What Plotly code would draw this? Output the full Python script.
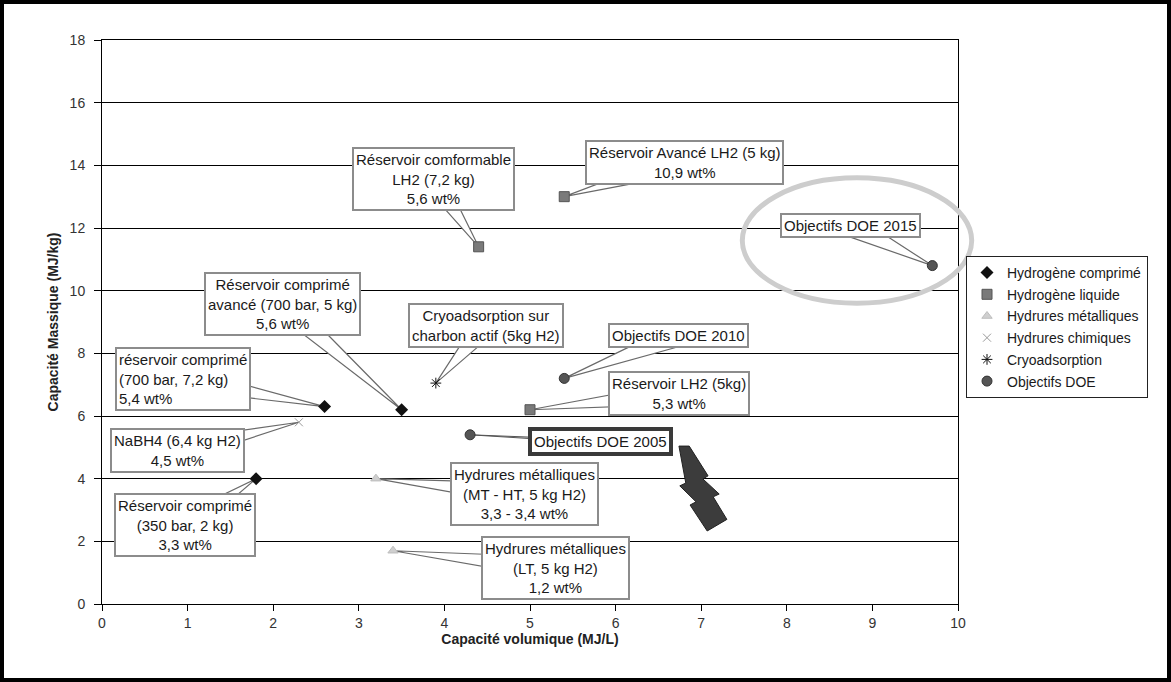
import plotly.graph_objects as go

# ---------------- data ----------------
comprime_x = [1.8, 2.6, 3.5]
comprime_y = [4.0, 6.3, 6.2]
liquide_x = [4.4, 5.4, 5.0]
liquide_y = [11.4, 13.0, 6.2]
metal_x = [3.2, 3.4]
metal_y = [4.0, 1.7]
chimique_x = [2.3]
chimique_y = [5.8]
cryo_x = [3.9]
cryo_y = [7.05]
doe_x = [4.3, 5.4, 9.7]
doe_y = [5.4, 7.2, 10.8]

series_names = ["Hydrogène comprimé", "Hydrogène liquide", "Hydrures métalliques",
                "Hydrures chimiques", "Cryoadsorption", "Objectifs DOE"]

# callout labels: text, target (series index, point index)
label_texts = [
    "Réservoir comformable<br>LH2 (7,2 kg)<br>5,6 wt%",
    "Réservoir Avancé LH2 (5 kg)<br>10,9 wt%",
    "Objectifs DOE 2015",
    "Réservoir comprimé<br>avancé (700 bar, 5 kg)<br>5,6 wt%",
    "Cryoadsorption sur<br>charbon actif (5kg H2)",
    "Objectifs DOE 2010",
    "réservoir comprimé<br>(700 bar, 7,2 kg)<br>5,4 wt%",
    "Réservoir LH2 (5kg)<br>5,3 wt%",
    "NaBH4 (6,4 kg H2)<br>4,5 wt%",
    "Objectifs DOE 2005",
    "Hydrures métalliques<br>(MT - HT, 5 kg H2)<br>3,3 - 3,4 wt%",
    "Réservoir comprimé<br>(350 bar, 2 kg)<br>3,3 wt%",
    "Hydrures métalliques<br>(LT, 5 kg H2)<br>1,2 wt%",
]
label_targets = [(1, 0), (1, 1), (5, 2), (0, 2), (4, 0), (5, 1), (0, 1),
                 (1, 2), (3, 0), (5, 0), (2, 0), (0, 0), (2, 1)]
# box centres (data units)
label_box_x = [3.87, 6.81, 8.74, 2.11, 4.49, 6.73, 0.95, 6.74, 0.88, 5.82, 4.93, 0.975, 5.30]
label_box_y = [13.55, 14.09, 12.08, 9.56, 8.90, 8.57, 7.17, 6.72, 4.90, 5.19, 3.51, 2.52, 1.15]

# ---------------- geometry ----------------
W, H = 1171, 682
ML, MR, MT, MB = 102, 213, 40, 78
PW, PH = W - ML - MR, H - MT - MB
XMAX, YMAX = 10, 18
sx, sy = PW / XMAX, PH / YMAX

all_x = [comprime_x, liquide_x, metal_x, chimique_x, cryo_x, doe_x]
all_y = [comprime_y, liquide_y, metal_y, chimique_y, cryo_y, doe_y]

fig = go.Figure()

markers = [
    dict(symbol="diamond", size=10, color="#111111"),
    dict(symbol="square", size=10, color="#7a7a7a", line=dict(color="#555", width=1)),
    dict(symbol="triangle-up", size=9, color="#cfcfcf", line=dict(color="#bdbdbd", width=1)),
    dict(symbol="x-thin-open", size=8, color="#9a9a9a", line=dict(color="#9a9a9a", width=1)),
    dict(symbol="asterisk-open", size=9, color="#111111", line=dict(color="#111", width=1)),
    dict(symbol="circle", size=10, color="#555555", line=dict(color="#333", width=1)),
]
for name, xs, ys, mk in zip(series_names, all_x, all_y, markers):
    fig.add_trace(go.Scatter(x=xs, y=ys, mode="markers", name=name, marker=mk,
                             legendgroup=name))

shapes = []
annotations = []
FONT = "Liberation Sans, Arial, sans-serif"
for i, (txt, (si, pi)) in enumerate(zip(label_texts, label_targets)):
    bx, by = label_box_x[i], label_box_y[i]
    tx, ty = all_x[si][pi], all_y[si][pi]
    vx, vy = (tx - bx) * sx, (ty - by) * sy
    L = (vx ** 2 + vy ** 2) ** 0.5
    nx, ny = -vy / L, vx / L
    hw = 11
    b1 = (bx + nx * hw / sx, by + ny * hw / sy)
    b2 = (bx - nx * hw / sx, by - ny * hw / sy)
    path = f"M {b1[0]} {b1[1]} L {tx} {ty} L {b2[0]} {b2[1]} Z"
    if i == 9:
        shapes.append(dict(type="path", path=f"M {bx} {by+0.05} L {tx} {ty} L {bx} {by-0.05} Z",
                           xref="x", yref="y", layer="between",
                           fillcolor="#dddddd", line=dict(color="#555555", width=1)))
    else:
        shapes.append(dict(type="path", path=path, xref="x", yref="y", layer="between",
                           fillcolor="white", line=dict(color="#6a6a6a", width=1.2)))
    annotations.append(dict(
        x=bx, y=by, xref="x", yref="y", text=txt, showarrow=False,
        font=dict(family=FONT, size=15, color="#1a1a1a"),
        align="left" if i == 6 else "center",
        bgcolor="white",
        bordercolor="#3a3a3a" if i == 9 else "#8c8c8c",
        borderwidth=4 if i == 9 else 2,
        borderpad=2,
    ))

# lightning bolt from DOE 2005 box (data units)
bolt = [(6.74, 5.04), (6.86, 5.04), (7.08, 4.09), (7.02, 3.99), (7.21, 3.51), (7.14, 3.42),
        (7.30, 2.70), (7.07, 2.33), (6.87, 3.16), (6.94, 3.26), (6.75, 3.77), (6.82, 3.86)]
bolt_path = "M " + " L ".join(f"{x} {y}" for x, y in bolt) + " Z"
shapes.append(dict(type="path", path=bolt_path, xref="x", yref="y", layer="above",
                   fillcolor="#3c3c3c", line=dict(color="#222222", width=1)))

# grey ellipse around DOE 2015 target (data units -> paper)
ell_x0, ell_x1, ell_y0, ell_y1 = 7.48, 10.16, 9.6, 13.6
shapes.append(dict(type="circle", xref="paper", yref="paper",
                   x0=ell_x0 / XMAX, x1=ell_x1 / XMAX, y0=ell_y0 / YMAX, y1=ell_y1 / YMAX,
                   line=dict(color="#cdcdcd", width=5), layer="above"))

# outer black frame of the picture
shapes.append(dict(type="rect", xref="paper", yref="paper",
                   x0=(2 - ML) / PW, x1=(W - 2 - ML) / PW,
                   y0=(PH + MT - (H - 2)) / PH, y1=(PH + MT - 2) / PH,
                   line=dict(color="black", width=4), layer="above"))

NARROW = "Liberation Sans Narrow, Arial Narrow, Liberation Sans, Arial, sans-serif"
fig.update_layout(
    width=W, height=H,
    margin=dict(l=ML, r=MR, t=MT, b=MB, autoexpand=False),
    paper_bgcolor="white", plot_bgcolor="white",
    shapes=shapes, annotations=annotations,
    legend=dict(x=(966 - ML) / PW, y=(PH + MT - 256) / PH, xanchor="left", yanchor="top",
                bordercolor="#222", borderwidth=1, bgcolor="white",
                font=dict(family=FONT, size=14, color="#1a1a1a"),
                itemwidth=30, tracegroupgap=0.5),
    xaxis=dict(range=[0, XMAX], dtick=1, showgrid=False, zeroline=False,
               showline=True, linecolor="black", linewidth=1, mirror=True,
               ticks="outside", ticklen=6, tickcolor="black",
               tickfont=dict(family=NARROW, size=14, color="#333"),
               title=dict(text="<b>Capacité volumique (MJ/L)</b>", standoff=1,
                          font=dict(family=NARROW, size=14, color="#222"))),
    yaxis=dict(range=[0, YMAX], dtick=2, showgrid=True, gridcolor="black", gridwidth=1,
               zeroline=False, showline=True, linecolor="black", linewidth=1, mirror=True,
               ticks="outside", ticklen=7, tickcolor="black", ticklabelstandoff=6,
               tickfont=dict(family=NARROW, size=14, color="#333"),
               title=dict(text="<b>Capacité Massique (MJ/kg)</b>", standoff=7,
                          font=dict(family=NARROW, size=14, color="#222"))),
    showlegend=True,
)

fig.write_html("out.html", config={"displayModeBar": False},
               post_script="document.body.style.margin='0';document.body.style.overflow='hidden';")
